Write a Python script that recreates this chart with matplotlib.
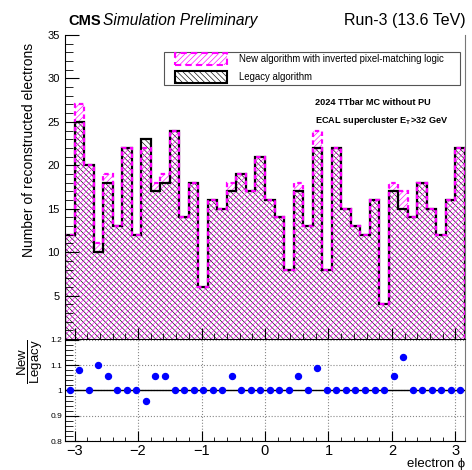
import matplotlib
matplotlib.use("Agg")
import matplotlib.pyplot as plt
import numpy as np
from matplotlib.patches import Rectangle
from matplotlib.ticker import MultipleLocator

plt.rcParams["font.family"] = ["Liberation Sans", "DejaVu Sans"]
plt.rcParams["mathtext.fontset"] = "custom"
plt.rcParams["mathtext.rm"] = "Liberation Sans"
plt.rcParams["mathtext.bf"] = "Liberation Sans:bold"
plt.rcParams["hatch.linewidth"] = 0.45

# 42 bins in electron phi
phi_lo, phi_hi, n_bins = -3.15, 3.15, 42
legacy = [12, 25, 20, 10, 18, 13, 22, 12, 23, 17, 18, 24, 14, 18, 6, 16, 15, 17, 19, 17, 21,
          16, 14, 8, 17, 13, 22, 8, 22, 15, 13, 12, 16, 4, 17, 15, 14, 18, 15, 12, 16, 22]
new_alg = [12, 27, 20, 11, 19, 13, 22, 12, 22, 18, 19, 24, 14, 18, 6, 16, 15, 18, 19, 17, 21,
           16, 14, 8, 18, 13, 24, 8, 22, 15, 13, 12, 16, 4, 18, 17, 14, 18, 15, 12, 16, 22]

label_new = "New algorithm with inverted pixel-matching logic"
label_legacy = "Legacy algorithm"

edges = np.linspace(phi_lo, phi_hi, n_bins + 1)
centers = 0.5 * (edges[1:] + edges[:-1])
legacy = np.array(legacy, dtype=float)
new_alg = np.array(new_alg, dtype=float)
ratio = new_alg / legacy

W, H = 472, 470
fig = plt.figure(figsize=(W / 100, H / 100), dpi=100)
ax1 = fig.add_axes([65 / W, 1 - 339 / H, 400 / W, 304 / H])
ax2 = fig.add_axes([65 / W, 1 - 441 / H, 400 / W, 101 / H])

MAG = (1, 0, 1)
HATCH_NEW = "//////"
HATCH_OLD = "\\" * 6
DASH = (0, (2.0, 1.5))

# upper pad: hatched histograms
ax1.stairs(legacy, edges, fill=True, facecolor="none", edgecolor="black",
           hatch=HATCH_OLD, linewidth=0, baseline=0)
ax1.stairs(new_alg, edges, fill=True, facecolor="none", edgecolor=MAG,
           hatch=HATCH_NEW, linewidth=0, baseline=0)
ax1.stairs(legacy, edges, color="black", linewidth=1.6, baseline=0)
ax1.stairs(new_alg, edges, color=MAG, linewidth=1.6, linestyle=DASH, baseline=0)

ax1.set_xlim(phi_lo, phi_hi)
ax1.set_ylim(0, 35)
ax1.set_yticks([5, 10, 15, 20, 25, 30, 35])
ax1.yaxis.set_minor_locator(MultipleLocator(1))
ax1.xaxis.set_major_locator(MultipleLocator(1))
ax1.xaxis.set_minor_locator(MultipleLocator(0.2))
ax1.tick_params(axis="x", which="both", direction="in", labelbottom=False)
ax1.tick_params(axis="y", which="both", direction="in", labelsize=8, pad=4)
ax1.tick_params(axis="y", which="major", length=10, width=0.8)
ax1.tick_params(axis="y", which="minor", length=6, width=0.6)
ax1.tick_params(axis="x", which="major", length=8, width=0.8)
ax1.tick_params(axis="x", which="minor", length=4, width=0.6)
ax1.spines["top"].set_visible(False)
ax1.spines["right"].set_color("#777777")
for s in ax1.spines.values():
    s.set_linewidth(0.8)


# legend box drawn in pixel positions of the pad
def px(x, y):
    return (x - 65) / 400, 1 - (y - 35) / 304


x0, y0 = px(164, 85)
x1, y1 = px(460, 52)
ax1.add_patch(Rectangle((x0, y0), x1 - x0, y1 - y0, transform=ax1.transAxes,
                        facecolor="white", edgecolor="#555555", linewidth=0.8, zorder=5))
entries = [
    (label_new, 59, dict(edgecolor=MAG, hatch=HATCH_NEW, linestyle=(0, (3, 2)))),
    (label_legacy, 76.5, dict(edgecolor="black", hatch=HATCH_OLD, linestyle="-")),
]
for label, yc, style in entries:
    hx0, hy0 = px(175, yc + 6)
    hx1, hy1 = px(227, yc - 6)
    ax1.add_patch(Rectangle((hx0, hy0), hx1 - hx0, hy1 - hy0, transform=ax1.transAxes,
                            facecolor="none", linewidth=1.5, zorder=6, **style))
    tx, ty = px(239, yc)
    ax1.text(tx, ty, label, transform=ax1.transAxes, fontsize=6.9, va="center", zorder=7)

ax1.text(0.625, 0.771, "2024 TTbar MC without PU", transform=ax1.transAxes,
         fontsize=6.6, fontweight="bold", va="baseline")
ax1.text(0.625, 0.712, r"ECAL supercluster E$_{\mathbf{T}}$>32 GeV", transform=ax1.transAxes,
         fontsize=6.6, fontweight="bold", va="baseline")

# lower pad: ratio
ax2.grid(True, which="major", linestyle=":", color="#888888", linewidth=0.8)
ax2.axhline(1.0, color="black", linewidth=1.0, zorder=3)
ax2.plot(centers, ratio, "o", color="blue", markersize=4.3, zorder=4)
ax2.set_xlim(phi_lo, phi_hi)
ax2.set_ylim(0.8, 1.2)
ax2.set_yticks([0.8, 0.9, 1.0, 1.1, 1.2], ["0.8", "0.9", "1", "1.1", "1.2"])
ax2.yaxis.set_minor_locator(MultipleLocator(0.02))
ax2.xaxis.set_major_locator(MultipleLocator(1))
ax2.xaxis.set_minor_locator(MultipleLocator(0.2))
ax2.tick_params(axis="both", which="both", direction="in")
ax2.tick_params(axis="y", which="major", length=10, width=0.8, labelsize=6, pad=2)
ax2.tick_params(axis="y", which="minor", length=6, width=0.6)
ax2.tick_params(axis="x", which="major", length=7, width=0.8, labelsize=10.5, pad=2)
ax2.tick_params(axis="x", which="minor", length=3, width=0.6)
ax2.spines["top"].set_visible(False)
ax2.spines["right"].set_color("#777777")
for s in ax2.spines.values():
    s.set_linewidth(0.8)
ax2.set_axisbelow(True)

# titles and axis labels
fig.text(68 / W, 1 - 25 / H, "CMS", fontsize=10.5, fontweight="bold", va="baseline")
fig.text(103 / W, 1 - 25 / H, "Simulation Preliminary", fontsize=11.2,
         fontstyle="italic", va="baseline")
fig.text(466 / W, 1 - 25 / H, "Run-3 (13.6 TeV)", fontsize=11.5, ha="right", va="baseline")
fig.text(29 / W, 1 - 43 / H, "Number of reconstructed electrons", fontsize=10,
         rotation=90, ha="center", va="top")
fig.text(30 / W, 1 - 362 / H, r"$\dfrac{\mathrm{New}}{\mathrm{Legacy}}$", fontsize=9.5,
         rotation=90, ha="center", va="center")
fig.text(465 / W, 1 - 467 / H, "electron ϕ", fontsize=9.5, ha="right", va="baseline")

fig.savefig("out.png", dpi=100)
